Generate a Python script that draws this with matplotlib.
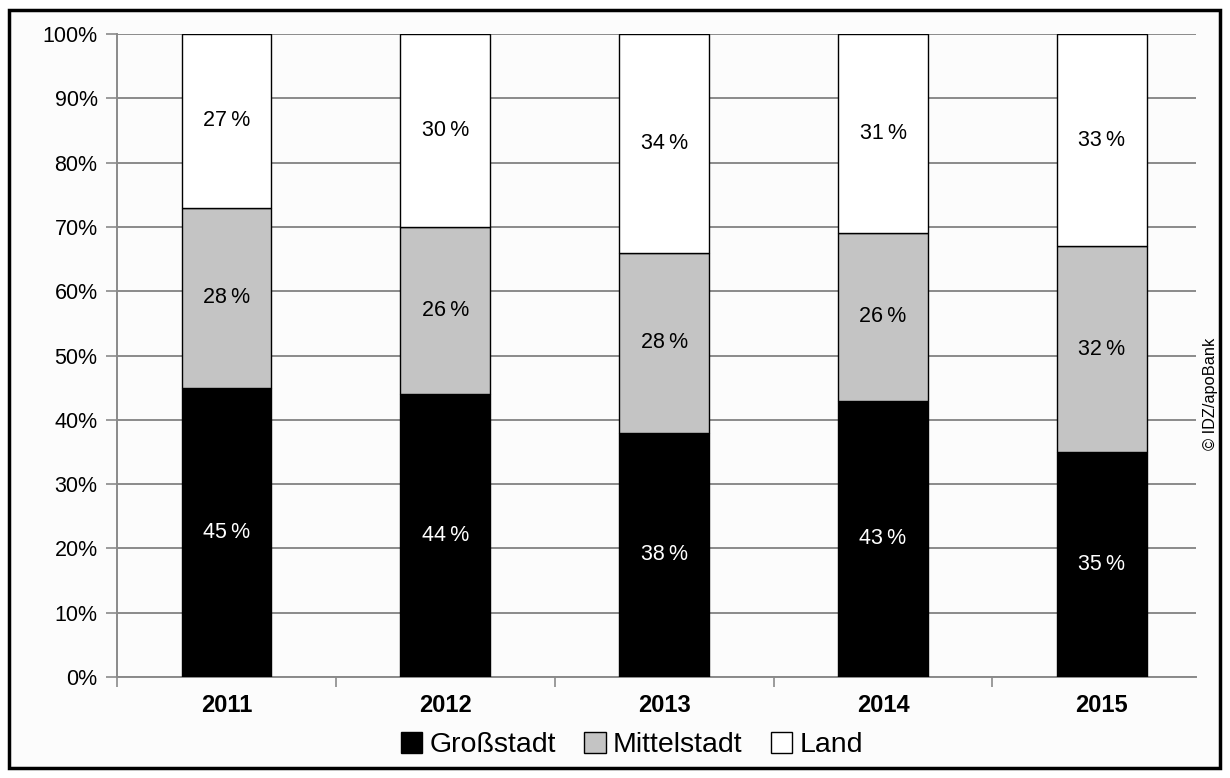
import matplotlib.pyplot as plt
from matplotlib.patches import Rectangle

plt.rcParams['font.family'] = ['Liberation Sans', 'DejaVu Sans']

# Daten
jahre = ['2011', '2012', '2013', '2014', '2015']
grossstadt = [45, 44, 38, 43, 35]
mittelstadt = [28, 26, 28, 26, 32]
land = [27, 30, 34, 31, 33]

serien = [
    ('Großstadt', grossstadt, '#000000', 'white'),
    ('Mittelstadt', mittelstadt, '#c4c4c4', 'black'),
    ('Land', land, '#ffffff', 'black'),
]

fig = plt.figure(figsize=(12.3, 7.78), dpi=100)
fig.patch.set_facecolor('white')

# Rahmen um die ganze Grafik
fig.patches.append(Rectangle((9 / 1230, 10 / 778), 1211 / 1230, 758 / 778,
                             transform=fig.transFigure, facecolor='#fcfcfc',
                             edgecolor='black', linewidth=2.5, zorder=-5))

ax = fig.add_axes([117 / 1230, 1 - 677 / 778, (1196 - 117) / 1230, (677 - 34) / 778])
ax.set_zorder(2)
ax.set_facecolor('#fcfcfc')

x = list(range(len(jahre)))
unten = [0] * len(jahre)
for name, werte, farbe, textfarbe in serien:
    ax.bar(x, werte, bottom=unten, width=0.41, color=farbe, edgecolor='black',
           linewidth=1.0, label=name, zorder=3)
    for i, v in enumerate(werte):
        ax.text(i, unten[i] + v / 2, f'{v}\u2009%', ha='center', va='center',
                fontsize=15.5, color=textfarbe, zorder=4)
    unten = [u + v for u, v in zip(unten, werte)]

ax.set_xlim(-0.5, 4.43)
ax.set_ylim(0, 100)
ax.set_yticks(range(0, 101, 10))
ax.set_yticklabels([f'{v}%' for v in range(0, 101, 10)], fontsize=15.5)
ax.yaxis.grid(True, color='#8a8a8a', linewidth=1.4, zorder=1)
ax.set_axisbelow(True)

ax.set_xticks(x)
ax.set_xticklabels(jahre, fontsize=17, fontweight='bold')
ax.set_xticks([-0.5, 0.5, 1.5, 2.5, 3.5], minor=True)
ax.tick_params(axis='x', which='major', length=0, pad=12)
ax.tick_params(axis='x', which='minor', length=7, color='#8a8a8a', width=1.2)
ax.tick_params(axis='y', length=8, color='#8a8a8a', width=1.2, pad=6)

for s in ['top', 'right']:
    ax.spines[s].set_visible(False)
for s in ['left', 'bottom']:
    ax.spines[s].set_color('#8a8a8a')
    ax.spines[s].set_linewidth(1.4)

ax.legend(loc='center', bbox_to_anchor=(632 / 1230, 1 - 745 / 778),
          bbox_transform=fig.transFigure, ncol=3, frameon=False, fontsize=20.5,
          handlelength=0.75, handleheight=0.75, handletextpad=0.25,
          columnspacing=1.0, borderpad=0)

fig.text(1211 / 1230, 1 - 394 / 778, '© IDZ/apoBank', rotation=90,
         ha='center', va='center', fontsize=11.8)

fig.savefig('out.png', dpi=100)
